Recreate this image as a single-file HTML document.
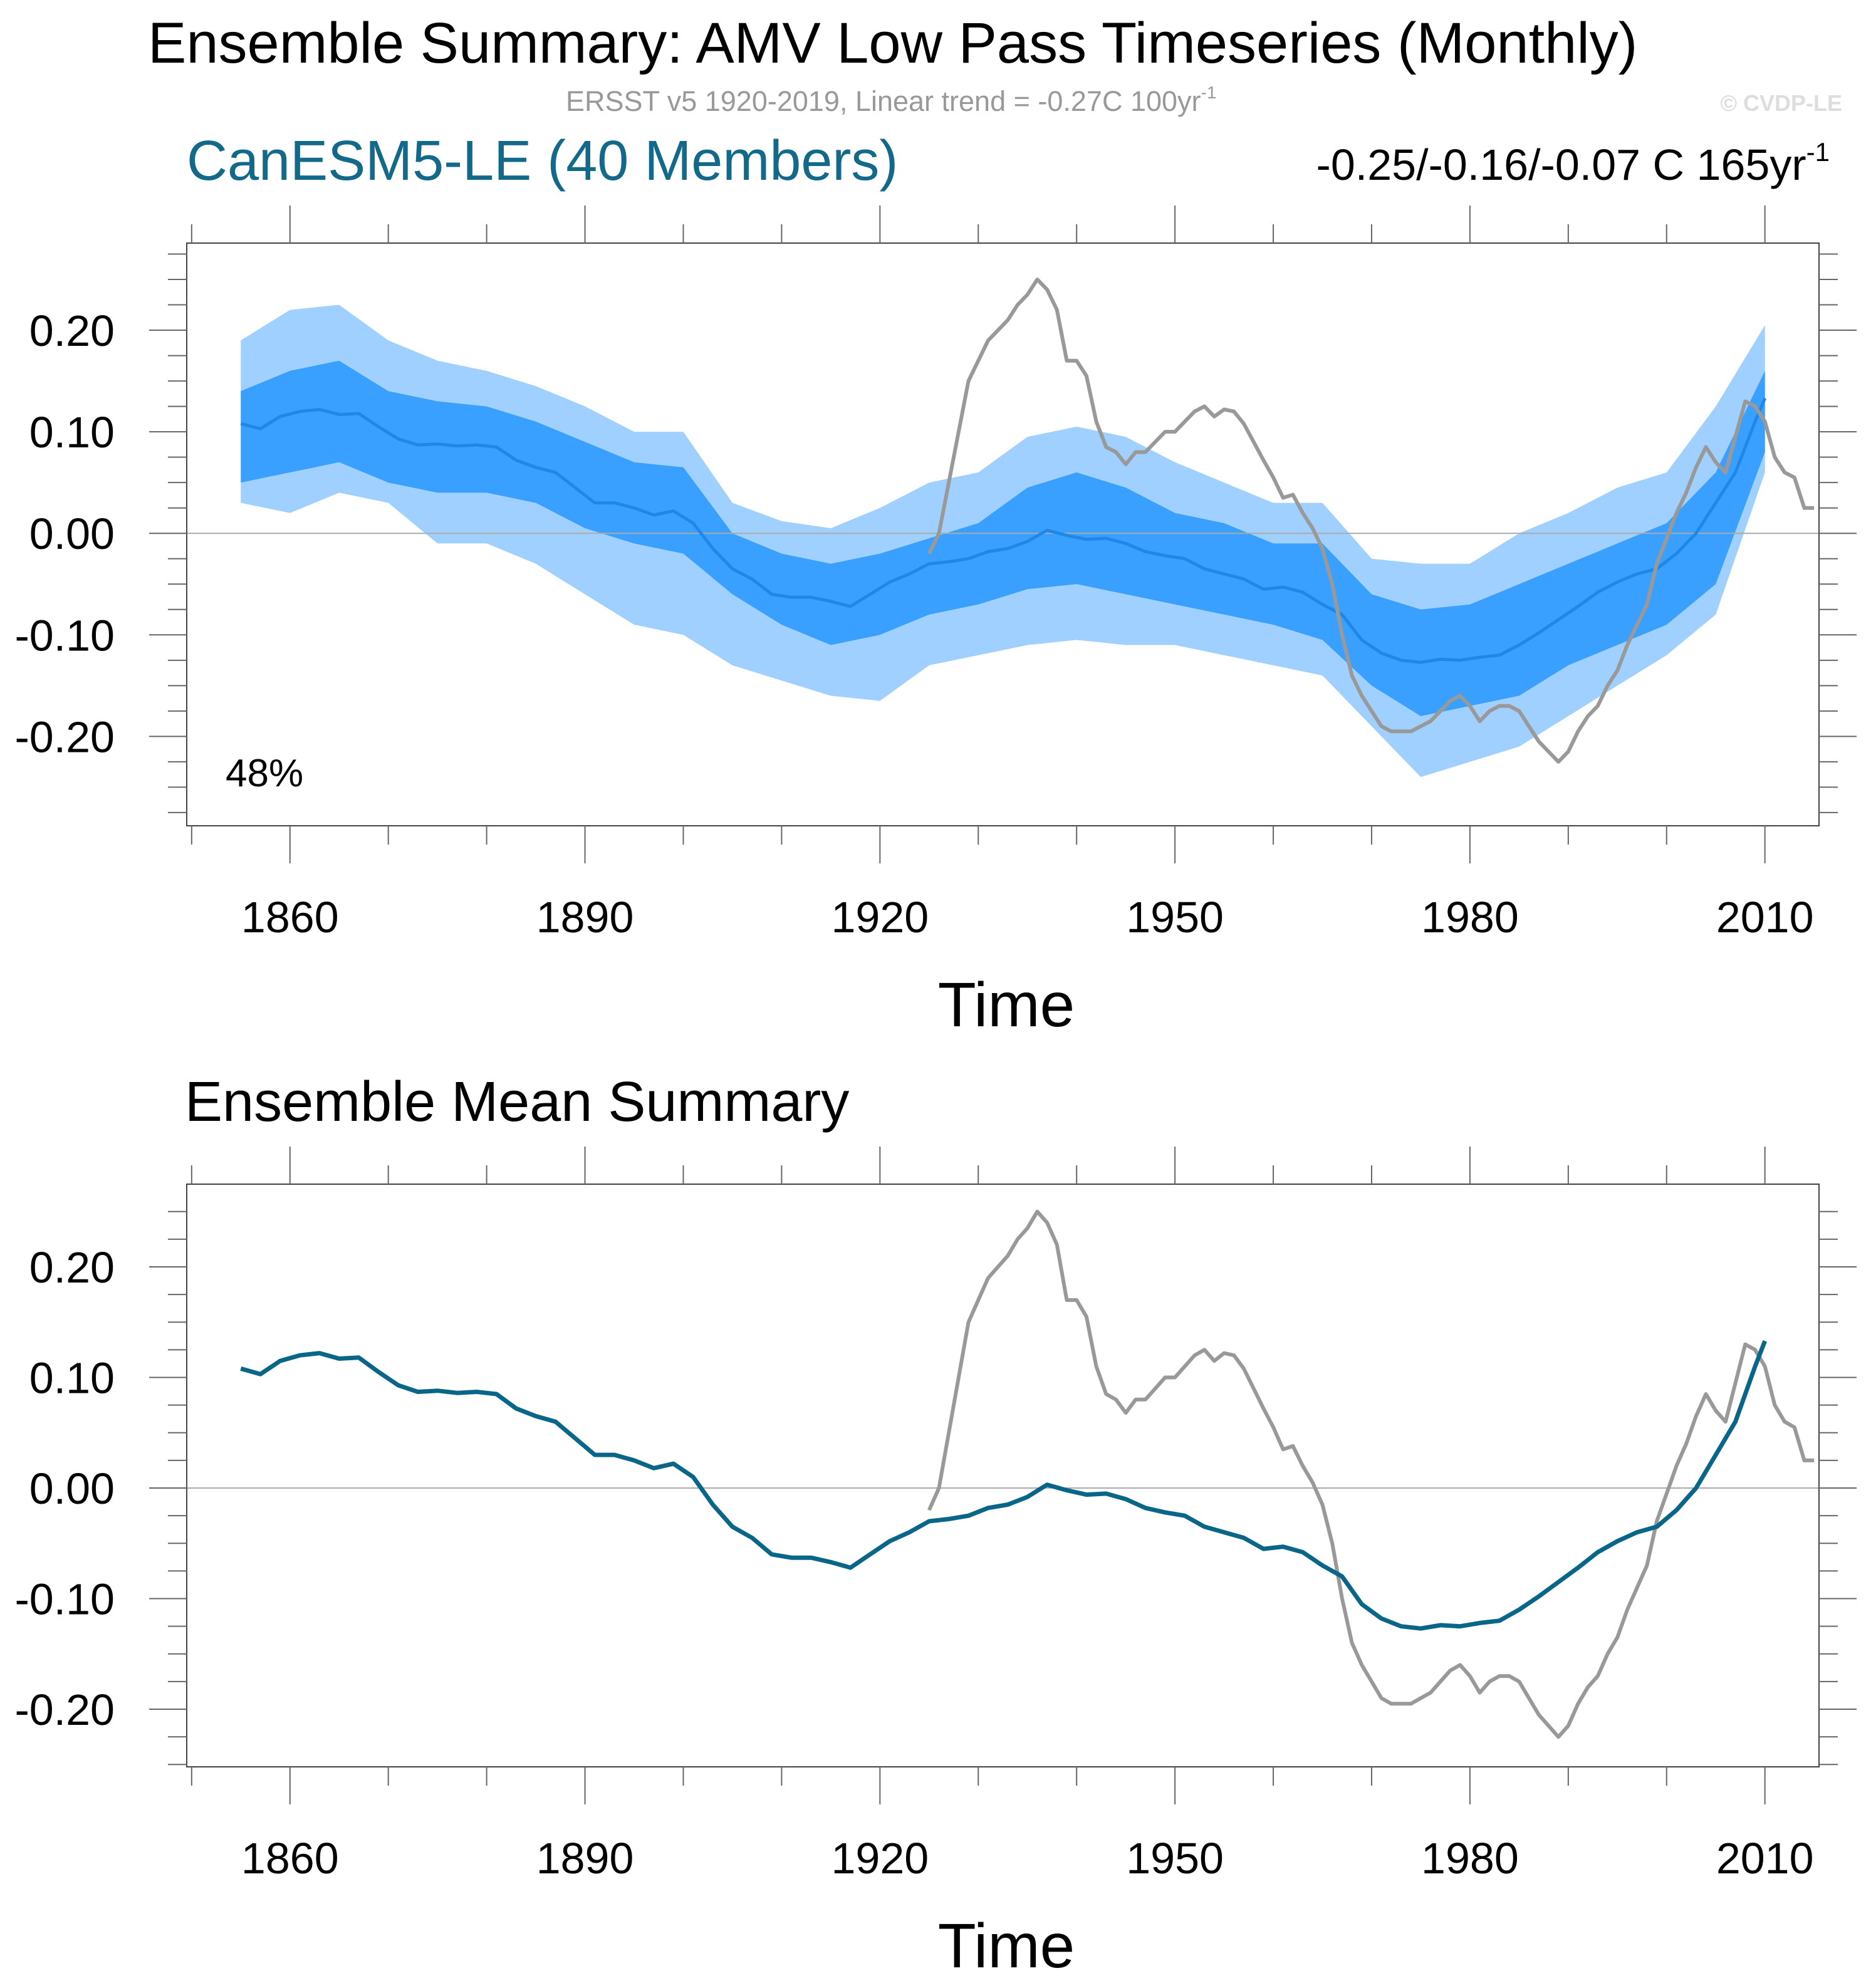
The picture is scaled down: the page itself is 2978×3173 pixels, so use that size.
<!DOCTYPE html>
<html><head><meta charset="utf-8">
<style>
html,body{margin:0;padding:0;background:#fff;}
svg{display:block;font-family:"Liberation Sans",Arial,sans-serif;}
</style></head>
<body>
<svg id="chart" width="2978" height="3173" viewBox="0 0 2978 3173" xmlns="http://www.w3.org/2000/svg">
<text x="236" y="100" font-size="92" fill="#000">Ensemble Summary: AMV Low Pass Timeseries (Monthly)</text>
<text x="903" y="177" font-size="45" fill="#999">ERSST v5 1920-2019, Linear trend = -0.27C 100yr<tspan dy="-20" font-size="28">-1</tspan></text>
<text x="2940" y="177" font-size="36" font-weight="bold" fill="#ddd" text-anchor="end">© CVDP-LE</text>
<text x="298" y="287" font-size="90" fill="#12698a">CanESM5-LE (40 Members)</text>
<text x="2920" y="287" font-size="70" fill="#000" text-anchor="end">-0.25/-0.16/-0.07 C 165yr<tspan dy="-30" font-size="42">-1</tspan></text>
<text x="295" y="1789" font-size="90" fill="#000">Ensemble Mean Summary</text>
<g id="p1"></g>
<g id="p2"></g>
</svg>
<script>
const meanYears=[1855,1857,1859,1861,1863,1865,1867,1869,1871,1873,1875,1877,1879,1881,1883,1885,1887,1889,1891,1893,1895,1897,1899,1901,1903,1905,1907,1909,1911,1913,1915,1917,1919,1921,1923,1925,1927,1929,1931,1933,1935,1937,1939,1941,1943,1945,1947,1949,1951,1953,1955,1957,1959,1961,1963,1965,1967,1969,1971,1973,1975,1977,1979,1981,1983,1985,1987,1989,1991,1993,1995,1997,1999,2001,2003,2005,2007,2009,2010];
const meanVals=[0.108,0.103,0.115,0.12,0.122,0.117,0.118,0.105,0.093,0.087,0.088,0.086,0.087,0.085,0.072,0.065,0.06,0.045,0.03,0.03,0.025,0.018,0.022,0.01,-0.015,-0.035,-0.045,-0.06,-0.063,-0.063,-0.067,-0.072,-0.06,-0.048,-0.04,-0.03,-0.028,-0.025,-0.018,-0.015,-0.008,0.003,-0.002,-0.006,-0.005,-0.01,-0.018,-0.022,-0.025,-0.035,-0.04,-0.045,-0.055,-0.053,-0.058,-0.07,-0.08,-0.105,-0.118,-0.125,-0.127,-0.124,-0.125,-0.122,-0.12,-0.11,-0.098,-0.085,-0.072,-0.058,-0.048,-0.04,-0.035,-0.02,0.0,0.03,0.06,0.11,0.133];
const obsYears=[1925,1926,1927,1928,1929,1930,1931,1932,1933,1934,1935,1936,1937,1938,1939,1940,1941,1942,1943,1944,1945,1946,1947,1948,1949,1950,1951,1952,1953,1954,1955,1956,1957,1958,1959,1960,1961,1962,1963,1964,1965,1966,1967,1968,1969,1970,1971,1972,1973,1974,1975,1976,1977,1978,1979,1980,1981,1982,1983,1984,1985,1986,1987,1988,1989,1990,1991,1992,1993,1994,1995,1996,1997,1998,1999,2000,2001,2002,2003,2004,2005,2006,2007,2008,2009,2010,2011,2012,2013,2014,2015];
const obsVals=[-0.02,0.0,0.05,0.1,0.15,0.17,0.19,0.2,0.21,0.225,0.235,0.25,0.24,0.22,0.17,0.17,0.155,0.11,0.085,0.08,0.068,0.08,0.08,0.09,0.1,0.1,0.11,0.12,0.125,0.115,0.122,0.12,0.108,0.09,0.072,0.055,0.035,0.038,0.02,0.005,-0.015,-0.05,-0.1,-0.14,-0.16,-0.175,-0.19,-0.195,-0.195,-0.195,-0.19,-0.185,-0.175,-0.165,-0.16,-0.17,-0.185,-0.175,-0.17,-0.17,-0.175,-0.19,-0.205,-0.215,-0.225,-0.215,-0.195,-0.18,-0.17,-0.15,-0.135,-0.11,-0.09,-0.07,-0.03,-0.005,0.02,0.04,0.065,0.085,0.07,0.06,0.095,0.13,0.125,0.11,0.075,0.06,0.055,0.025,0.025];
const bandYears=[1855,1860,1865,1870,1875,1880,1885,1890,1895,1900,1905,1910,1915,1920,1925,1930,1935,1940,1945,1950,1955,1960,1965,1970,1975,1980,1985,1990,1995,2000,2005,2010];
const outerUpper=[0.19,0.22,0.225,0.19,0.17,0.16,0.145,0.125,0.1,0.1,0.03,0.012,0.005,0.025,0.05,0.06,0.095,0.105,0.095,0.07,0.05,0.03,0.03,-0.025,-0.03,-0.03,0.0,0.02,0.045,0.06,0.125,0.205];
const innerUpper=[0.14,0.16,0.17,0.14,0.13,0.125,0.11,0.09,0.07,0.065,0.0,-0.02,-0.03,-0.02,-0.005,0.01,0.045,0.06,0.045,0.02,0.01,-0.01,-0.01,-0.06,-0.075,-0.07,-0.05,-0.03,-0.01,0.01,0.06,0.16];
const innerLower=[0.05,0.06,0.07,0.05,0.04,0.04,0.03,0.005,-0.01,-0.02,-0.06,-0.09,-0.11,-0.1,-0.08,-0.07,-0.055,-0.05,-0.06,-0.07,-0.08,-0.09,-0.105,-0.15,-0.18,-0.17,-0.16,-0.13,-0.11,-0.09,-0.05,0.08];
const outerLower=[0.03,0.02,0.04,0.03,-0.01,-0.01,-0.03,-0.06,-0.09,-0.1,-0.13,-0.145,-0.16,-0.165,-0.13,-0.12,-0.11,-0.105,-0.11,-0.11,-0.12,-0.13,-0.14,-0.19,-0.24,-0.225,-0.21,-0.18,-0.15,-0.12,-0.08,0.06];
const yTickVals=[0.2,0.1,0,-0.1,-0.2];
const yTickLabels=["0.20","0.10","0.00","-0.10","-0.20"];
const xTickVals=[1860,1890,1920,1950,1980,2010];

const NS="http://www.w3.org/2000/svg";
function mk(tag,attrs,parent){const e=document.createElementNS(NS,tag);for(const k in attrs)e.setAttribute(k,attrs[k]);parent.appendChild(e);return e;}
const X0=1849.5,X1=2015.5,L=298,R=2903;
function xs(y){return L+(y-X0)/(X1-X0)*(R-L);}
function panel(g,top,bot,vTop,vBot,isTop){
  const ys=v=>top+(vTop-v)/(vTop-vBot)*(bot-top);
  const line=(xa,va)=>xa.map((x,i)=>(i?'L':'M')+xs(x).toFixed(1)+','+ys(va[i]).toFixed(1)).join('');
  const band=(up,lo)=>line(bandYears,up)+bandYears.slice().reverse().map((x,i)=>'L'+xs(x).toFixed(1)+','+ys(lo[lo.length-1-i]).toFixed(1)).join('')+'Z';
  if(isTop){
    const b1=mk('path',{d:band(outerUpper,outerLower),fill:'#a0d0ff'},g);
    
    
    const b2=mk('path',{d:band(innerUpper,innerLower),fill:'#3aa0ff'},g);
    
    
  }
  const z=mk('line',{x1:L,x2:R,y1:ys(0),y2:ys(0),stroke:'#aaa','stroke-width':2},g);
  
  
  if(isTop){
    const m=mk('path',{d:line(meanYears,meanVals),fill:'none',stroke:'#1e88e8','stroke-width':5,'stroke-linejoin':'round'},g);
    
    
    const o=mk('path',{d:line(obsYears,obsVals),fill:'none',stroke:'#999','stroke-width':6,'stroke-linejoin':'round'},g);
    
    
  } else {
    const o=mk('path',{d:line(obsYears,obsVals),fill:'none',stroke:'#999','stroke-width':6,'stroke-linejoin':'round'},g);
    
    
    const m=mk('path',{d:line(meanYears,meanVals),fill:'none',stroke:'#0a6688','stroke-width':7,'stroke-linejoin':'round'},g);
    
    
  }
  const fr=mk('rect',{x:L,y:top,width:R-L,height:bot-top,fill:'none',stroke:'#444','stroke-width':2},g);
  
  
  for(let k=-12;k<=12;k++){const v=k*0.025;if(v>vTop||v<vBot)continue;const maj=k%4===0;const len=maj?60:30;const y=ys(v);
    mk('line',{x1:L-len,x2:L,y1:y,y2:y,stroke:'#666','stroke-width':2},g);
    mk('line',{x1:R,x2:R+len,y1:y,y2:y,stroke:'#666','stroke-width':2},g);}
  yTickVals.forEach((v,i)=>{const t=mk('text',{x:183,y:ys(v)+25,'font-size':70,'text-anchor':'end',fill:'#000'},g);t.textContent=yTickLabels[i];
    
    });
  for(let yr=1850;yr<=2010;yr+=10){const maj=(yr-1860)%30===0;const len=maj?60:30;const x=xs(yr);
    mk('line',{x1:x,x2:x,y1:top-len,y2:top,stroke:'#666','stroke-width':2},g);
    mk('line',{x1:x,x2:x,y1:bot,y2:bot+len,stroke:'#666','stroke-width':2},g);}
  xTickVals.forEach(v=>{const t=mk('text',{x:xs(v),y:bot+170,'font-size':70,'text-anchor':'middle',fill:'#000'},g);t.textContent=String(v);
    
    });
  const tt=mk('text',{x:1606,y:bot+320,'font-size':100,'text-anchor':'middle',fill:'#000'},g);tt.textContent='Time';
  
  
  if(isTop){const p=mk('text',{x:360,y:1255,'font-size':62,fill:'#000'},g);p.textContent='48%';
    
    }
}
panel(document.getElementById('p1'),388,1318,0.2858,-0.288,true);
panel(document.getElementById('p2'),1890,2820,0.2748,-0.2521,false);
</script>
</body></html>
